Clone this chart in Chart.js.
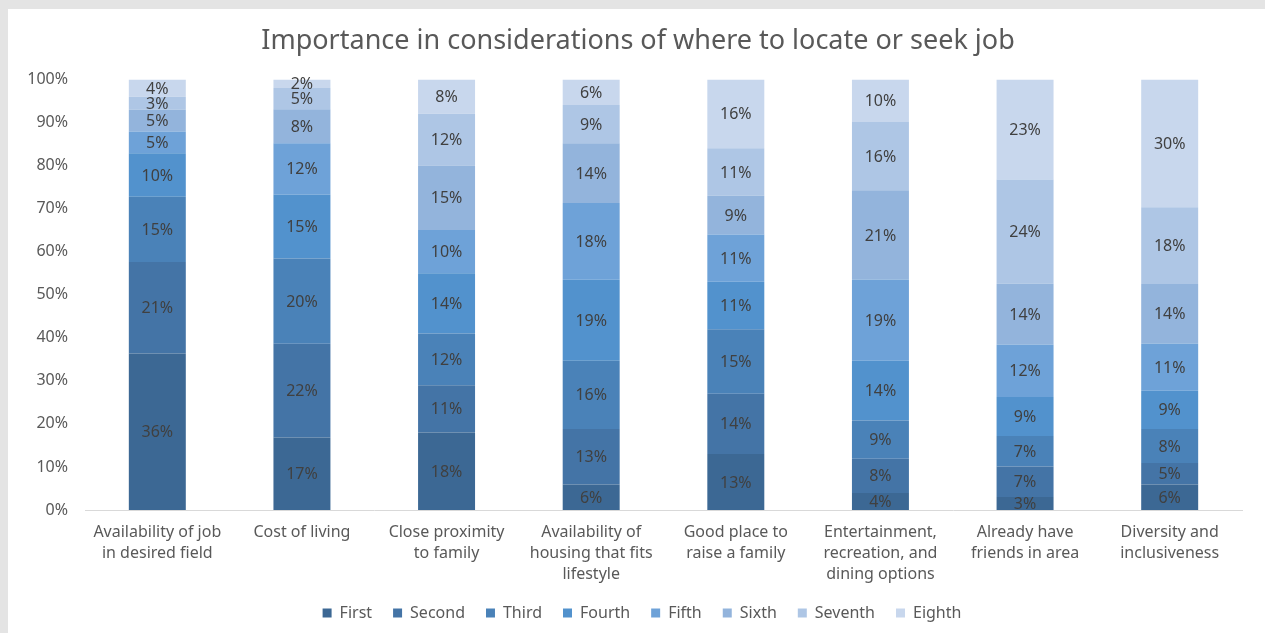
<!DOCTYPE html>
<html>
<head>
<meta charset="utf-8">
<script src="https://cdn.jsdelivr.net/npm/chart.js@4.4.1/dist/chart.umd.min.js"></script>
<style>
  html, body { margin: 0; padding: 0; background: #e4e4e4; width: 1265px; height: 633px; overflow: hidden; }
  #frame { position: absolute; left: 8px; top: 9px; width: 1257px; height: 624px; background: #fff; }
</style>
</head>
<body>
<div id="frame"><canvas id="chart"></canvas></div>
<script>
// categories (x axis)
const categories = [
    ['Availability of job', 'in desired field'],
    'Cost of living',
    ['Close proximity', 'to family'],
    ['Availability of', 'housing that fits', 'lifestyle'],
    ['Good place to', 'raise a family'],
    ['Entertainment,', 'recreation, and', 'dining options'],
    ['Already have', 'friends in area'],
    ['Diversity and', 'inclusiveness']
]

// share of respondents ranking each consideration first..eighth (%)
const rankNames = ['First', 'Second', 'Third', 'Fourth', 'Fifth', 'Sixth', 'Seventh', 'Eighth']
const first   = [36, 17, 18, 6, 13, 4, 3, 6]
const second  = [21, 22, 11, 13, 14, 8, 7, 5]
const third   = [15, 20, 12, 16, 15, 9, 7, 8]
const fourth  = [10, 15, 14, 19, 11, 14, 9, 9]
const fifth   = [5, 12, 10, 18, 11, 19, 12, 11]
const sixth   = [5, 8, 15, 14, 9, 21, 14, 14]
const seventh = [3, 5, 12, 9, 11, 16, 24, 18]
const eighth  = [4, 2, 8, 6, 16, 10, 23, 30]
const yTicks = [0, 10, 20, 30, 40, 50, 60, 70, 80, 90, 100]

const colors = ['#3c6894', '#4474a6', '#4a82b8', '#5292cd', '#6ea2d8', '#93b4dc', '#aec6e5', '#c8d7ed']
const series = [first, second, third, fourth, fifth, sixth, seventh, eighth]

// rounded values don't always add to 100, so scale each column to 100%
const totals = categories.map((c, j) => series.reduce((s, arr) => s + arr[j], 0))

const FONT = '"Noto Sans", sans-serif'
const TEXT = '#595959'

// draw the percentage in the middle of each segment
const segmentLabels = {
    id: 'segmentLabels',
    afterDatasetsDraw(chart) {
        const ctx = chart.ctx
        ctx.save()
        ctx.font = '16px ' + FONT
        ctx.fillStyle = '#404040'
        ctx.textAlign = 'center'
        ctx.textBaseline = 'middle'
        chart.data.datasets.forEach((ds, i) => {
            chart.getDatasetMeta(i).data.forEach((bar, j) => {
                ctx.fillText(ds.raw[j] + '%', bar.x, (bar.y + bar.base) / 2 + 1)
            })
        })
        ctx.restore()
    }
}

// title and legend in the reference sit a bit right of the plot centre
const boxShift = {
    id: 'boxShift',
    afterLayout(chart) {
        chart.legend.left += 17
        chart.legend.right += 17
        chart.titleBlock.left += 13
        chart.titleBlock.right += 13
    }
}

new Chart(document.getElementById('chart'), {
    type: 'bar',
    data: {
        labels: categories,
        datasets: series.map((arr, i) => ({
            label: rankNames[i],
            raw: arr,
            data: arr.map((v, j) => v / totals[j] * 100),
            backgroundColor: colors[i],
            borderWidth: 0,
            barPercentage: 1,
            categoryPercentage: 0.394
        }))
    },
    options: {
        responsive: true,
        maintainAspectRatio: false,
        animation: false,
        layout: { padding: { left: 0, right: 23, top: 0, bottom: 2 } },
        plugins: {
            title: {
                display: true,
                text: 'Importance in considerations of where to locate or seek job',
                color: TEXT,
                font: { family: FONT, size: 27, weight: 'normal' },
                padding: { top: 16, bottom: 22 }
            },
            legend: {
                position: 'bottom',
                labels: {
                    color: TEXT,
                    font: { family: FONT, size: 16 },
                    boxWidth: 9,
                    boxHeight: 9,
                    padding: 21
                }
            },
            tooltip: { enabled: false }
        },
        scales: {
            x: {
                stacked: true,
                grid: { display: false },
                border: { color: '#d9d9d9', width: 1 },
                afterFit(scale) { scale.height = 74 },
                ticks: {
                    color: TEXT,
                    font: { family: FONT, size: 16, lineHeight: 1.31 },
                    maxRotation: 0,
                    autoSkip: false,
                    padding: 4
                }
            },
            y: {
                stacked: true,
                min: 0,
                max: 100,
                grid: { display: false },
                border: { display: false },
                afterFit(scale) { scale.width = 77 },
                afterBuildTicks(scale) { scale.ticks = yTicks.map(v => ({ value: v })) },
                ticks: {
                    color: TEXT,
                    font: { family: FONT, size: 16 },
                    padding: 9,
                    callback: v => v + '%'
                }
            }
        }
    },
    plugins: [segmentLabels, boxShift]
})
</script>
</body>
</html>
